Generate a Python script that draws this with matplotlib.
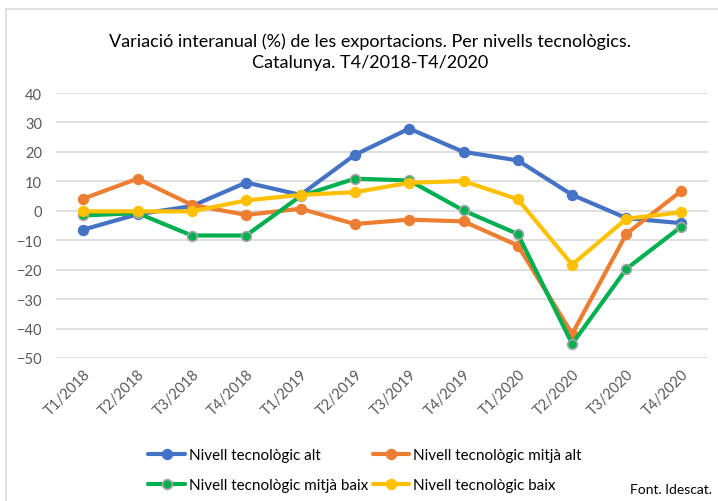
import matplotlib
matplotlib.use("Agg")
import matplotlib.pyplot as plt
from matplotlib.lines import Line2D

plt.rcParams['font.family'] = ['Lato', 'DejaVu Sans']

categories = ["T1/2018", "T2/2018", "T3/2018", "T4/2018", "T1/2019", "T2/2019",
              "T3/2019", "T4/2019", "T1/2020", "T2/2020", "T3/2020", "T4/2020"]
alt = [-6.4, -1.2, 1.6, 9.6, 5.4, 19.0, 27.9, 20.0, 17.1, 5.4, -2.5, -4.2]
mitja_alt = [4.1, 10.9, 2.0, -1.4, 0.7, -4.5, -3.0, -3.6, -11.8, -41.8, -7.8, 6.6]
mitja_baix = [-1.6, -0.8, -8.4, -8.4, 5.0, 10.9, 10.3, 0.1, -7.9, -45.2, -19.7, -5.5]
baix = [-0.2, -0.2, -0.2, 3.5, 5.4, 6.3, 9.5, 10.1, 3.9, -18.3, -2.7, -0.5]

series_names = ["Nivell tecnològic alt", "Nivell tecnològic mitjà alt",
                "Nivell tecnològic mitjà baix", "Nivell tecnològic baix"]
colors = ["#4472C4", "#ED7D31", "#00B050", "#FFC000"]
edges = ["#4472C4", "#ED7D31", "#A5A5A5", "#FFC000"]
yticks = [40, 30, 20, 10, 0, -10, -20, -30, -40, -50]

W, H = 718, 502
fig = plt.figure(figsize=(W / 100, H / 100), dpi=100)
ax = fig.add_axes([56 / W, (H - 359) / H, (708 - 56) / W, (359 - 94) / H])

x = list(range(len(categories)))
handles = []
for vals, name, c, e in zip([alt, mitja_alt, mitja_baix, baix], series_names, colors, edges):
    h, = ax.plot(x, vals, color=c, lw=3, marker='o', markersize=7,
                 markerfacecolor=c, markeredgecolor=e, markeredgewidth=1.2,
                 label=name, zorder=3, solid_capstyle='round')
    handles.append(h)

ax.set_xlim(-0.5, len(categories) - 0.5)
ax.set_ylim(-50, 40)
ax.set_yticks(yticks)
ax.set_xticks(x)
ax.set_xticklabels(categories, rotation=45, ha='right', rotation_mode='anchor')
ax.grid(axis='y', color='#D9D9D9', lw=1.2, zorder=0)
ax.set_axisbelow(True)
for s in ax.spines.values():
    s.set_visible(False)
ax.tick_params(axis='both', length=0, colors='#595959', labelsize=10.5)
ax.tick_params(axis='y', pad=10)
ax.tick_params(axis='x', pad=6)

fig.text(370 / W, 1 - 42 / H, "Variació interanual (%) de les exportacions. Per nivells tecnològics.",
         ha='center', va='center', fontsize=13, color='#000000')
fig.text(370 / W, 1 - 63 / H, "Catalunya. T4/2018-T4/2020",
         ha='center', va='center', fontsize=13, color='#000000')

# row-wise order: matplotlib fills columns first
order = [0, 2, 1, 3]
leg = fig.legend(handles=[handles[i] for i in order], loc='center',
                 bbox_to_anchor=(365 / W, 1 - 471 / H),
                 ncol=2, frameon=False, fontsize=11, handlelength=2.4,
                 columnspacing=0.3, handletextpad=0.25, labelspacing=1.05)
for t in leg.get_texts():
    t.set_color('#000000')

fig.text(712 / W, 1 - 490 / H, "Font. Idescat.", ha='right', va='center',
         fontsize=10, color='#000000')

# chart border (top and left)
fig.add_artist(Line2D([6 / W, 1.0], [1 - 10 / H, 1 - 10 / H], transform=fig.transFigure,
                      color='#D9D9D9', lw=1.2))
fig.add_artist(Line2D([6 / W, 6 / W], [0.0, 1 - 10 / H], transform=fig.transFigure,
                      color='#D9D9D9', lw=1.2))

fig.savefig("out.png", dpi=100, facecolor='white')
